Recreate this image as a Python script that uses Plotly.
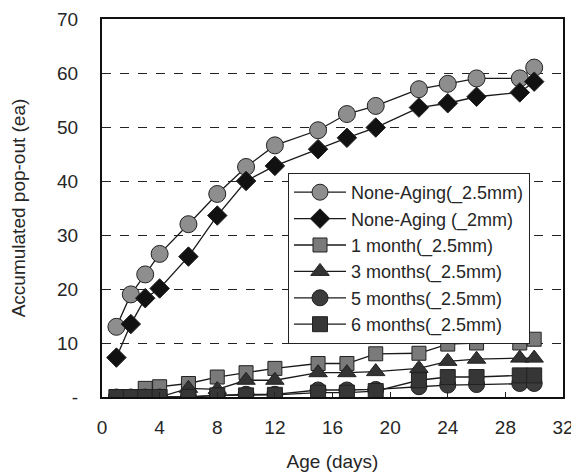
import plotly.graph_objects as go

days = [1, 2, 3, 4, 6, 8, 10, 12, 15, 17, 19, 22, 24, 26, 29, 30]

none_aging_25 = [13, 19, 22.7, 26.5, 32, 37.6, 42.6, 46.6, 49.4, 52.4, 53.9, 57.0, 58.0, 59.0, 59.0, 61.0]
none_aging_2 = [7.3, 13.5, 18.3, 20.1, 26.0, 33.6, 40.0, 42.8, 45.9, 48.0, 49.9, 53.6, 54.4, 55.6, 56.4, 58.4]
month1 = [0, 0, 1.6, 1.9, 2.5, 3.7, 4.5, 5.3, 6.2, 6.2, 8.0, 8.1, 9.8, 10.0, 10.0, 10.7]
month3 = [0, 0, 0, 0, 1.6, 1.4, 3.1, 3.1, 4.5, 4.5, 4.7, 5.3, 6.6, 7.0, 7.2, 7.2]
month5 = [0, 0, 0, 0, 0, 0.3, 0.5, 0.5, 1.3, 1.3, 1.4, 1.9, 2.2, 2.3, 2.5, 2.5]
month6 = [0, 0, 0, 0, 0, 0.3, 0.3, 0.4, 0.8, 0.8, 1.1, 3.1, 3.7, 3.7, 4.0, 4.0]

names = ["None-Aging(_2.5mm)", "None-Aging (_2mm)", "1 month(_2.5mm)",
         "3 months(_2.5mm)", "5 months(_2.5mm)", "6 months(_2.5mm)"]

x_ticks = [0, 4, 8, 12, 16, 20, 24, 28, 32]
y_ticks = [0, 10, 20, 30, 40, 50, 60, 70]
y_ticktext = ["-", "10", "20", "30", "40", "50", "60", "70"]

series = [
    (names[0], none_aging_25, "circle", "#8e8e8e", 17),
    (names[1], none_aging_2, "diamond", "#111111", 15),
    (names[2], month1, "square", "#7a7a7a", 14),
    (names[3], month3, "triangle-up", "#333333", 16),
    (names[4], month5, "circle", "#3c3c3c", 16),
    (names[5], month6, "square", "#363636", 15),
]

fig = go.Figure()
for name, vals, sym, col, size in series:
    fig.add_trace(go.Scatter(
        x=days, y=vals, name=name, mode="lines+markers",
        line=dict(color="#1a1a1a", width=1.3),
        marker=dict(symbol=sym, size=size, color=col,
                    line=dict(color="#222222", width=1)),
    ))

font_col = "#262626"
fig.update_layout(
    width=571, height=474,
    margin=dict(l=102, r=8, t=19, b=77),
    paper_bgcolor="white", plot_bgcolor="white",
    font=dict(family="Liberation Sans, Arial, sans-serif", size=19, color=font_col),
    showlegend=True,
    legend=dict(
        x=0.4035, y=0.5926, xanchor="left", yanchor="top",
        bgcolor="white", bordercolor="#222222", borderwidth=1,
        font=dict(size=18, color=font_col),
        itemwidth=52, tracegroupgap=0,
        traceorder="normal",
    ),
    xaxis=dict(
        range=[0, 32], tickvals=x_ticks, ticks="inside", ticklen=5,
        tickcolor="#222", showgrid=False, zeroline=False,
        showline=True, linecolor="#111", linewidth=2, mirror=True,
        ticklabelstandoff=12, automargin=False, ticklabeloverflow="allow",
        title=dict(text="Age (days)", font=dict(size=19), standoff=18),
        tickfont=dict(size=19),
    ),
    yaxis=dict(
        range=[0, 70], tickvals=y_ticks, ticktext=y_ticktext, ticks="",
        showgrid=True, gridcolor="#222", gridwidth=1, griddash="dash",
        zeroline=False, automargin=False,
        showline=True, linecolor="#111", linewidth=2, mirror=True,
        ticklabelstandoff=18,
        title=dict(text="Accumulated pop-out (ea)", font=dict(size=19), standoff=26),
        tickfont=dict(size=19),
    ),
)

fig.write_html("out.html")
